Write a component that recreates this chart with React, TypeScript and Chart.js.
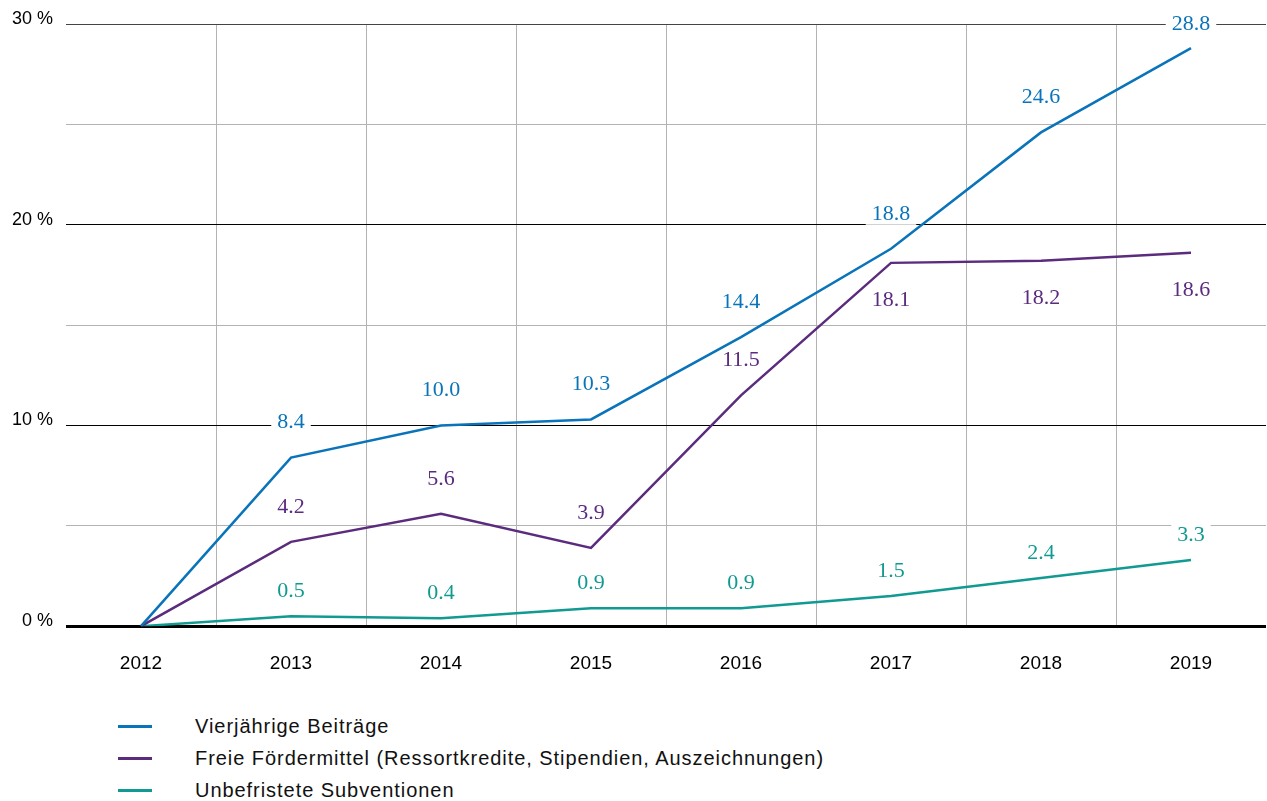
import React, { useEffect, useRef } from "react";
import { Chart, registerables } from "chart.js";

Chart.register(...registerables);

const years = ["2012", "2013", "2014", "2015", "2016", "2017", "2018", "2019"];
const vierjaehrig = [0, 8.4, 10.0, 10.3, 14.4, 18.8, 24.6, 28.8];
const freie = [0, 4.2, 5.6, 3.9, 11.5, 18.1, 18.2, 18.6];
const unbefristet = [0, 0.5, 0.4, 0.9, 0.9, 1.5, 2.4, 3.3];

const seriesNames = [
  "Vierjährige Beiträge",
  "Freie Fördermittel (Ressortkredite, Stipendien, Auszeichnungen)",
  "Unbefristete Subventionen",
];
const yTickValues = [0, 10, 20, 30];

const COLORS = ["#0a74ba", "#5b2b7e", "#119a91"];
// label placement per series: offset in px, and which indices go below
const LABEL_STYLE = [
  { offset: 35, below: [] as number[] },
  { offset: 35, below: [5, 6, 7] },
  { offset: 25, below: [] as number[] },
];

function drawLabels(chart: any, background: boolean) {
  const ctx = chart.ctx;
  const area = chart.chartArea;
  ctx.save();
  ctx.font = '22px "Liberation Serif", "DejaVu Serif", serif';
  ctx.textAlign = "center";
  ctx.textBaseline = "middle";
  chart.data.datasets.forEach((ds: any, di: number) => {
    const meta = chart.getDatasetMeta(di);
    const st = LABEL_STYLE[di];
    meta.data.forEach((pt: any, i: number) => {
      const v = ds.data[i];
      if (i === 0) return;
      const text = v.toFixed(1);
      const below = st.below.includes(i);
      let y = below ? pt.y + st.offset + 2 : pt.y - st.offset;
      y = Math.max(area.top, y);
      const x = pt.x;
      if (background) {
        const w = ctx.measureText(text).width + 12;
        ctx.fillStyle = "#ffffff";
        ctx.fillRect(x - w / 2, y - 11, w, 22);
      } else {
        ctx.fillStyle = COLORS[di];
        ctx.fillText(text, x, y);
      }
    });
  });
  ctx.restore();
}

const labelPlugin = {
  id: "valueLabels",
  beforeDatasetsDraw(chart: any) {
    drawLabels(chart, true);
  },
  afterDatasetsDraw(chart: any) {
    drawLabels(chart, false);
  },
};

export default function App() {
  const ref = useRef<HTMLCanvasElement | null>(null);

  useEffect(() => {
    if (!ref.current) return;
    const seriesData = [vierjaehrig, freie, unbefristet];
    const chart = new Chart(ref.current, {
      type: "line",
      data: {
        labels: years,
        datasets: seriesData.map((d, i) => ({
          label: seriesNames[i],
          data: d,
          borderColor: COLORS[i],
          backgroundColor: COLORS[i],
          borderWidth: 2.5,
          pointRadius: 0,
          tension: 0,
          fill: false,
        })),
      },
      options: {
        responsive: false,
        animation: false,
        events: [],
        layout: { padding: { top: 24, right: 1, bottom: 0, left: 0 } },
        plugins: {
          legend: { display: false },
          tooltip: { enabled: false },
        },
        scales: {
          x: {
            offset: true,
            border: { display: false },
            grid: {
              offset: true,
              drawTicks: false,
              color: (c: any) =>
                c.index === undefined || c.index === 0 ? "rgba(0,0,0,0)" : "#b3b3b3",
              lineWidth: 1,
            },
            ticks: {
              padding: 26,
              color: "#000",
              font: { family: '"Liberation Sans", Arial, sans-serif', size: 19 },
            },
          },
          y: {
            min: 0,
            max: 30,
            border: { display: false },
            afterFit: (scale: any) => {
              scale.width = 66;
            },
            grid: {
              drawTicks: false,
              color: (c: any) => {
                const v = c.tick ? c.tick.value : 0;
                if (v === 30) return "#444";
                return yTickValues.includes(v) ? "#000" : "#b3b3b3";
              },
              lineWidth: (c: any) => (c.tick && c.tick.value === 0 ? 3 : 1),
            },
            ticks: {
              stepSize: 5,
              padding: 13,
              labelOffset: -5,
              color: "#000",
              font: { family: '"Liberation Sans", Arial, sans-serif', size: 18 },
              callback: (v: any) => (yTickValues.includes(Number(v)) ? `${v} %` : ""),
            },
          },
        },
      },
      plugins: [labelPlugin],
    });
    return () => chart.destroy();
  }, []);

  return (
    <div
      style={{
        position: "absolute",
        left: 0,
        top: 0,
        width: 1267,
        height: 801,
        overflow: "hidden",
        background: "#fff",
      }}
    >
      <canvas
        ref={ref}
        width={1267}
        height={701}
        style={{ position: "absolute", left: 0, top: 0, width: 1267, height: 701 }}
      />
      {seriesNames.map((name, i) => (
        <div
          key={name}
          style={{
            position: "absolute",
            left: 0,
            top: 710 + i * 32,
            height: 32,
            width: 1267,
            display: "flex",
            alignItems: "center",
            fontFamily: '"Liberation Sans", Arial, sans-serif',
            fontSize: 20,
            letterSpacing: "0.95px",
            color: "#111",
          }}
        >
          <span
            style={{
              position: "absolute",
              left: 118,
              top: 15,
              width: 34,
              height: 3,
              background: COLORS[i],
            }}
          />
          <span style={{ position: "absolute", left: 195, whiteSpace: "nowrap" }}>{name}</span>
        </div>
      ))}
    </div>
  );
}
